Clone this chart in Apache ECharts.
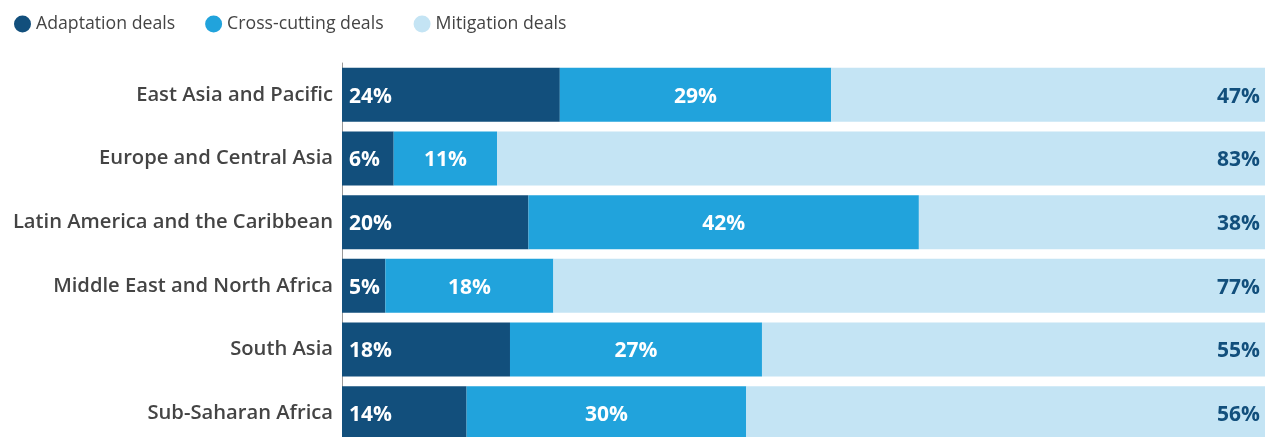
<!DOCTYPE html>
<html><head><meta charset="utf-8">
<script src="https://cdn.jsdelivr.net/npm/echarts@6/dist/echarts.min.js"></script>
<style>html,body{margin:0;padding:0;background:#fff;overflow:hidden}#c{width:1265px;height:445px}</style>
</head><body><div id="c"></div>
<script>
const categories = ['East Asia and Pacific','Europe and Central Asia','Latin America and the Caribbean','Middle East and North Africa','South Asia','Sub-Saharan Africa'];
const adaptation = [23.6, 5.6, 20.2, 4.7, 18.2, 13.5];
const crossCutting = [29.4, 11.2, 42.3, 18.2, 27.3, 30.3];
const mitigation = [47.0, 83.2, 37.5, 77.1, 54.5, 56.2];
const seriesNames = ['Adaptation deals','Cross-cutting deals','Mitigation deals'];
const colors = ['#124f7c','#21a3dc','#c4e4f4'];

const font = '"Open Sans", "Noto Sans", sans-serif';
const fmt = p => Math.round(p.value) + '%';
function mk(i, data, pos, labelColor, dist) {
  return {
    name: seriesNames[i], type: 'bar', stack: 'total', data: data,
    barWidth: 54, itemStyle: {color: colors[i]},
    label: {show: true, position: pos, distance: dist, formatter: fmt, color: labelColor,
      fontFamily: font, fontWeight: 'bold', fontSize: 21, offset: [0, 2]},
    emphasis: {disabled: true}
  };
}
const chart = echarts.init(document.getElementById('c'), null, {renderer: 'canvas'});
chart.setOption({
  animation: false,
  color: colors,
  legend: {left: 9, top: 10, icon: 'circle', itemWidth: 17, itemHeight: 17, itemGap: 30,
    textStyle: {fontFamily: font, fontSize: 17.7, color: '#444'},
    data: seriesNames},
  grid: {left: 342, right: 0, top: 63, bottom: 0, containLabel: false},
  xAxis: {type: 'value', min: 0, max: 100, show: false},
  yAxis: {type: 'category', data: categories, inverse: true,
    axisLine: {show: true, lineStyle: {color: '#999', width: 1}},
    axisTick: {show: false},
    axisLabel: {margin: 9, fontFamily: font, fontSize: 20.2, fontWeight: 600, color: '#444',
      padding: [5, 0, 0, 0]}},
  series: [
    mk(0, adaptation, 'insideLeft', '#fff', 7),
    mk(1, crossCutting, 'inside', '#fff', 5),
    mk(2, mitigation, 'insideRight', '#124f7c', 5)
  ]
});
</script></body></html>
